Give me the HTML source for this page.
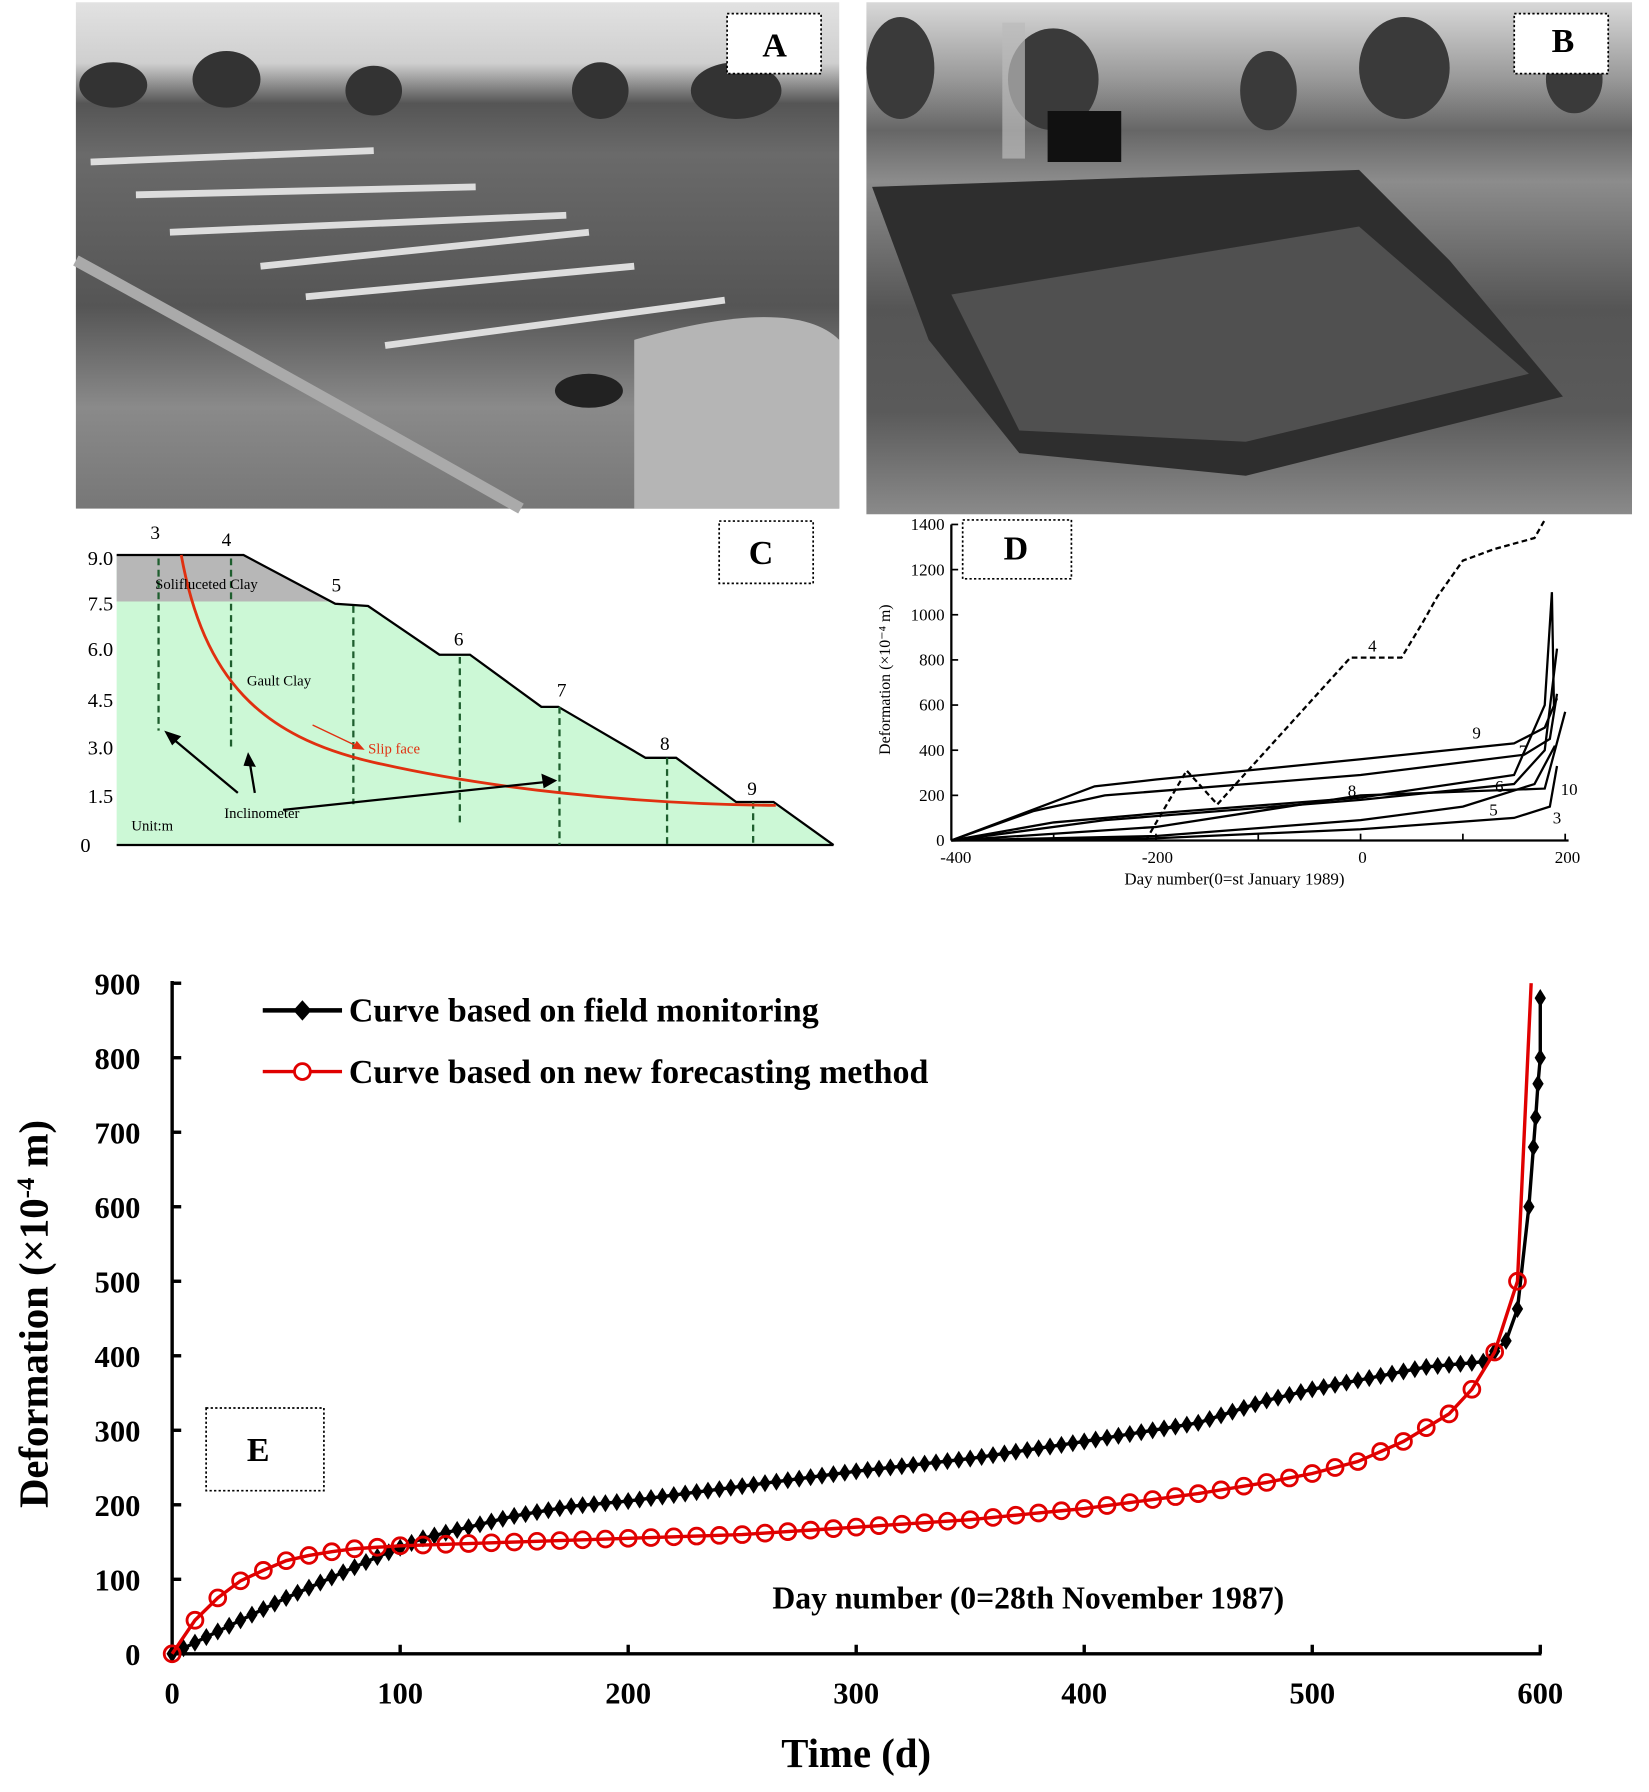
<!DOCTYPE html>
<html><head><meta charset="utf-8"><style>
html,body{margin:0;padding:0;background:#fff}
svg{display:block}
text{font-family:"Liberation Serif",serif}
</style></head><body>
<svg id="s" width="1649" height="1792" viewBox="0 0 1456 1582" preserveAspectRatio="none" xmlns="http://www.w3.org/2000/svg">
<defs>
<linearGradient id="ga" x1="0" y1="0" x2="0" y2="1">
<stop offset="0" stop-color="#e2e2e2"/><stop offset="0.12" stop-color="#cfcfcf"/><stop offset="0.2" stop-color="#555"/><stop offset="0.3" stop-color="#6a6a6a"/><stop offset="0.6" stop-color="#555"/><stop offset="0.8" stop-color="#8a8a8a"/><stop offset="1" stop-color="#777"/>
</linearGradient>
<linearGradient id="gb" x1="0" y1="0" x2="0" y2="1">
<stop offset="0" stop-color="#d8d8d8"/><stop offset="0.15" stop-color="#999"/><stop offset="0.25" stop-color="#666"/><stop offset="0.35" stop-color="#8c8c8c"/><stop offset="0.6" stop-color="#555"/><stop offset="0.8" stop-color="#5a5a5a"/><stop offset="1" stop-color="#8a8a8a"/>
</linearGradient>
</defs>
<!-- Photo A -->
<rect x="67" y="2" width="674" height="447" fill="url(#ga)"/>
<g fill="#333">
<ellipse cx="200" cy="70" rx="30" ry="25"/><ellipse cx="330" cy="80" rx="25" ry="22"/><ellipse cx="530" cy="80" rx="25" ry="25"/><ellipse cx="650" cy="80" rx="40" ry="25"/><ellipse cx="100" cy="75" rx="30" ry="20"/>
</g>
<g stroke="#ddd" stroke-width="6" fill="none">
<line x1="80" y1="143" x2="330" y2="133"/><line x1="120" y1="172" x2="420" y2="165"/><line x1="150" y1="205" x2="500" y2="190"/><line x1="230" y1="235" x2="520" y2="205"/><line x1="270" y1="262" x2="560" y2="235"/><line x1="340" y1="305" x2="640" y2="265"/>
</g>
<path d="M67,230 Q250,330 460,449" stroke="#aaa" stroke-width="10" fill="none"/>
<path d="M560,300 Q700,260 741,300 L741,449 L560,449Z" fill="#b5b5b5"/>
<ellipse cx="520" cy="345" rx="30" ry="15" fill="#222"/>
<rect x="642" y="12" width="83" height="53" fill="#fff" stroke="#000" stroke-width="1.5" stroke-dasharray="2,2"/>
<text x="684" y="50" font-family="Liberation Sans" font-weight="bold" font-size="30" text-anchor="middle">A</text>
<!-- Photo B -->
<rect x="765" y="2" width="676" height="452" fill="url(#gb)"/>
<g fill="#3a3a3a">
<ellipse cx="795" cy="60" rx="30" ry="45"/><ellipse cx="930" cy="70" rx="40" ry="45"/><ellipse cx="1120" cy="80" rx="25" ry="35"/><ellipse cx="1240" cy="60" rx="40" ry="45"/><ellipse cx="1390" cy="70" rx="25" ry="30"/>
</g>
<rect x="925" y="98" width="65" height="45" fill="#111"/>
<rect x="885" y="20" width="20" height="120" fill="#bbb" opacity="0.7"/>
<path d="M770,165 L1200,150 L1280,230 L1380,350 L1100,420 L900,400 L820,300Z" fill="#2e2e2e"/>
<path d="M840,260 L1200,200 L1350,330 L1100,390 L900,380Z" fill="#505050"/>
<rect x="1337" y="12" width="83" height="53" fill="#fff" stroke="#000" stroke-width="1.5" stroke-dasharray="2,2"/>
<text x="1380" y="46" font-family="Liberation Sans" font-weight="bold" font-size="30" text-anchor="middle">B</text>

<!-- Panel C -->
<polygon points="103,490 215,490 296,533 325,535 388,578 415,578 478,624 493,624 570,669 597,669 650,708 683,708 736,746 103,746" fill="#ccf8d6"/>
<polygon points="103,490 215,490 293,531 103,531" fill="#b7b7b7"/>
<polyline points="103,490 215,490 296,533 325,535 388,578 415,578 478,624 493,624 570,669 597,669 650,708 683,708 736,746" fill="none" stroke="#000" stroke-width="2"/>
<line x1="103" y1="746" x2="736" y2="746" stroke="#000" stroke-width="2"/>
<g stroke="#1e5e2e" stroke-width="2" stroke-dasharray="6,4">
<line x1="140" y1="493" x2="140" y2="645"/><line x1="204" y1="493" x2="204" y2="660"/><line x1="312" y1="535" x2="312" y2="710"/><line x1="406" y1="580" x2="406" y2="727"/><line x1="494" y1="624" x2="494" y2="746"/><line x1="589" y1="669" x2="589" y2="746"/><line x1="665" y1="708" x2="665" y2="746"/>
</g>
<path d="M160,490 C180,600 230,650 330,673 S 560,710 685,711" fill="none" stroke="#e03010" stroke-width="2.5"/>
<line x1="276" y1="640" x2="318" y2="660" stroke="#e03010" stroke-width="1.2"/>
<polygon points="322,662 311,661 315,654" fill="#e03010"/>
<text x="325" y="665" font-size="13" fill="#e03010">Slip face</text>
<g font-size="13"><text x="137" y="520">Solifluceted Clay</text><text x="218" y="605">Gault Clay</text><text x="198" y="722">Inclinometer</text><text x="116" y="733">Unit:m</text></g>
<g stroke="#000" stroke-width="2" fill="none"><line x1="210" y1="700" x2="150" y2="650"/><line x1="225" y1="700" x2="220" y2="670"/><line x1="250" y1="715" x2="485" y2="690"/></g>
<g fill="#000"><polygon points="145,645 160,650 152,658"/><polygon points="219,664 226,677 215,676"/><polygon points="492,689 478,683 480,696"/></g>
<g font-family="Liberation Sans" font-size="17" text-anchor="middle"><text x="137" y="476">3</text><text x="200" y="482">4</text><text x="297" y="522">5</text><text x="405" y="570">6</text><text x="496" y="615">7</text><text x="587" y="662">8</text><text x="664" y="702">9</text></g>
<g font-size="18" text-anchor="end"><text x="100" y="499">9.0</text><text x="100" y="539">7.5</text><text x="100" y="579">6.0</text><text x="100" y="624">4.5</text><text x="100" y="666">3.0</text><text x="100" y="709">1.5</text><text x="80" y="752">0</text></g>
<rect x="635" y="460" width="83" height="55" fill="#fff" stroke="#000" stroke-width="1.5" stroke-dasharray="2,2"/>
<text x="672" y="498" font-family="Liberation Sans" font-weight="bold" font-size="30" text-anchor="middle">C</text>

<!-- Panel D -->
<line x1="840" y1="463" x2="840" y2="742" stroke="#000" stroke-width="2"/>
<line x1="840" y1="742" x2="1385" y2="742" stroke="#000" stroke-width="2"/>
<g id="dticks" stroke="#000" stroke-width="1.5"></g>
<g id="dlines" fill="none" stroke="#000" stroke-width="2"></g>
<g font-size="15" text-anchor="end" id="dylab"></g>
<g font-size="15" text-anchor="middle"><text x="844" y="762">-400</text><text x="1022" y="762">-200</text><text x="1203" y="762">0</text><text x="1384" y="762">200</text>
<text x="1090" y="781">Day number(0=st January 1989)</text></g>
<text transform="translate(786,600) rotate(-90)" font-size="14" text-anchor="middle">Deformation (×10⁻⁴ m)</text>
<g font-family="Liberation Sans" font-size="15"><text x="1208" y="575">4</text><text x="1300" y="652">9</text><text x="1341" y="668">7</text><text x="1190" y="703">8</text><text x="1320" y="699">6</text><text x="1378" y="702">10</text><text x="1315" y="720">5</text><text x="1371" y="727">3</text></g>
<rect x="850" y="459" width="96" height="52" fill="#fff" stroke="#000" stroke-width="1.5" stroke-dasharray="2,2"/>
<text x="897" y="494" font-family="Liberation Sans" font-weight="bold" font-size="30" text-anchor="middle">D</text>

<!-- Panel E -->
<g id="eaxes" stroke="#000" stroke-width="3"></g>
<g font-size="27" font-weight="bold" id="elab"></g>
<text x="756" y="1560" font-size="36" font-weight="bold" text-anchor="middle">Time (d)</text>
<text transform="translate(42,1160) rotate(-90)" font-size="36" font-weight="bold" text-anchor="middle">Deformation (×10<tspan dy="-12" font-size="22">-4</tspan><tspan dy="12"> m)</tspan></text>
<text x="682" y="1420" font-size="28" font-weight="bold">Day number  (0=28th November  1987)</text>
<rect x="182" y="1243" width="104" height="73" fill="#fff" stroke="#000" stroke-width="1.5" stroke-dasharray="2,2"/>
<text x="228" y="1290" font-family="Liberation Sans" font-weight="bold" font-size="30" text-anchor="middle">E</text>
<g id="eser"></g>
<line x1="232" y1="892" x2="302" y2="892" stroke="#000" stroke-width="4"/>
<polygon points="267,883 275,892 267,901 259,892" fill="#000"/>
<line x1="232" y1="946" x2="302" y2="946" stroke="#e00000" stroke-width="3"/>
<circle cx="267" cy="946" r="7" fill="#fff" stroke="#e00000" stroke-width="2.5"/>
<text x="308" y="902" font-size="30" font-weight="bold">Curve based on field monitoring</text>
<text x="308" y="956" font-size="30" font-weight="bold">Curve based on new forecasting method</text>
</svg>
<script>
var NS="http://www.w3.org/2000/svg";
function el(p,t,a,txt){var e=document.createElementNS(NS,t);for(var k in a)e.setAttribute(k,a[k]);if(txt!==undefined)e.textContent=txt;document.getElementById(p).appendChild(e);return e;}
// D
function dx(v){return 840+(v+400)*542/600}function dy(v){return 742-v*279/1400}
for(var v=0;v<=1400;v+=200){el('dticks','line',{x1:840,y1:dy(v),x2:846,y2:dy(v)});el('dylab','text',{x:834,y:dy(v)+5},String(v));}
for(var v=-400;v<=200;v+=100){el('dticks','line',{x1:dx(v),y1:742,x2:dx(v),y2:736});}
var D=[
[[-400,0],[-330,120],[-260,240],[-200,270],[0,360],[150,430],[180,500],[192,630]],
[[-400,0],[-320,130],[-250,200],[0,290],[160,380],[185,450],[192,650]],
[[-400,0],[-300,80],[-200,120],[0,190],[150,290],[180,600],[187,1100],[189,600]],
[[-400,0],[-250,90],[0,180],[150,250],[180,400],[192,850]],
[[-400,0],[-200,60],[0,200],[180,230],[190,400],[200,570]],
[[-400,0],[-200,20],[0,90],[100,150],[170,250],[190,420]],
[[-400,0],[-200,10],[0,50],[150,100],[185,150],[192,330]]];
D.forEach(function(c){el('dlines','polyline',{points:c.map(function(p){return dx(p[0])+','+dy(p[1])}).join(' ')});});
var d4=[[-210,0],[-170,310],[-140,160],[-10,810],[40,810],[60,960],[75,1080],[100,1240],[130,1290],[170,1340],[180,1420]];
el('dlines','polyline',{points:d4.map(function(p){return dx(p[0])+','+dy(p[1])}).join(' '),'stroke-dasharray':'5,3'});
// E
var X0=152,X6=1360,Y0=1460,Y9=868;
function ex(v){return X0+v*(X6-X0)/600}function ey(v){return Y0-v*(Y0-Y9)/900}
el('eaxes','line',{x1:X0,y1:Y9-2,x2:X0,y2:Y0+1});el('eaxes','line',{x1:X0-1,y1:Y0,x2:X6+1,y2:Y0});
for(var v=0;v<=900;v+=100){el('eaxes','line',{x1:X0,y1:ey(v),x2:X0+8,y2:ey(v)});el('elab','text',{x:X0-28,y:ey(v)+10,'text-anchor':'end'},String(v));}
for(var v=0;v<=600;v+=100){el('eaxes','line',{x1:ex(v),y1:Y0,x2:ex(v),y2:Y0-8});el('elab','text',{x:ex(v),y:Y0+44,'text-anchor':'middle'},String(v));}
function interp(k,x){for(var i=0;i<k.length-1;i++){if(x<=k[i+1][0]){var t=(x-k[i][0])/(k[i+1][0]-k[i][0]);return k[i][1]+t*(k[i+1][1]-k[i][1]);}}return k[k.length-1][1];}
var B=[[0,0],[50,75],[90,130],[110,155],[150,185],[175,198],[200,205],[250,225],[300,245],[350,262],[400,285],[450,310],[480,340],[500,355],[550,385],[575,392],[585,420],[592,480],[596,640],[598,720],[600,800]];
var bp=[];for(var x=0;x<=596;x+=5){bp.push([x,interp(B,x)]);}bp.push([597,680],[598,720],[599,765],[600,800],[600,880]);
el('eser','polyline',{points:bp.map(function(p){return ex(p[0])+','+ey(p[1])}).join(' '),fill:'none',stroke:'#000','stroke-width':3});
bp.forEach(function(p){var X=ex(p[0]),Y=ey(p[1]);el('eser','polygon',{points:(X)+','+(Y-8)+' '+(X+5)+','+Y+' '+X+','+(Y+8)+' '+(X-5)+','+Y,fill:'#000'});});
var R=[[0,0],[10,45],[20,75],[30,98],[40,112],[50,125],[60,132],[70,137],[80,141],[90,143],[100,145],[150,150],[200,155],[250,160],[300,170],[350,180],[400,195],[450,215],[480,230],[500,242],[520,258],[540,285],[560,322],[570,355],[580,405],[590,500]];
var rp=[];for(var x=0;x<=590;x+=10)rp.push([x,interp(R,x)]);
var line=rp.concat([[596,900]]);
el('eser','polyline',{points:line.map(function(p){return ex(p[0])+','+ey(p[1])}).join(' '),fill:'none',stroke:'#e00000','stroke-width':3});
rp.forEach(function(p){el('eser','circle',{cx:ex(p[0]),cy:ey(p[1]),r:7,fill:'none',stroke:'#e00000','stroke-width':2.5});});
</script>
</body></html>
